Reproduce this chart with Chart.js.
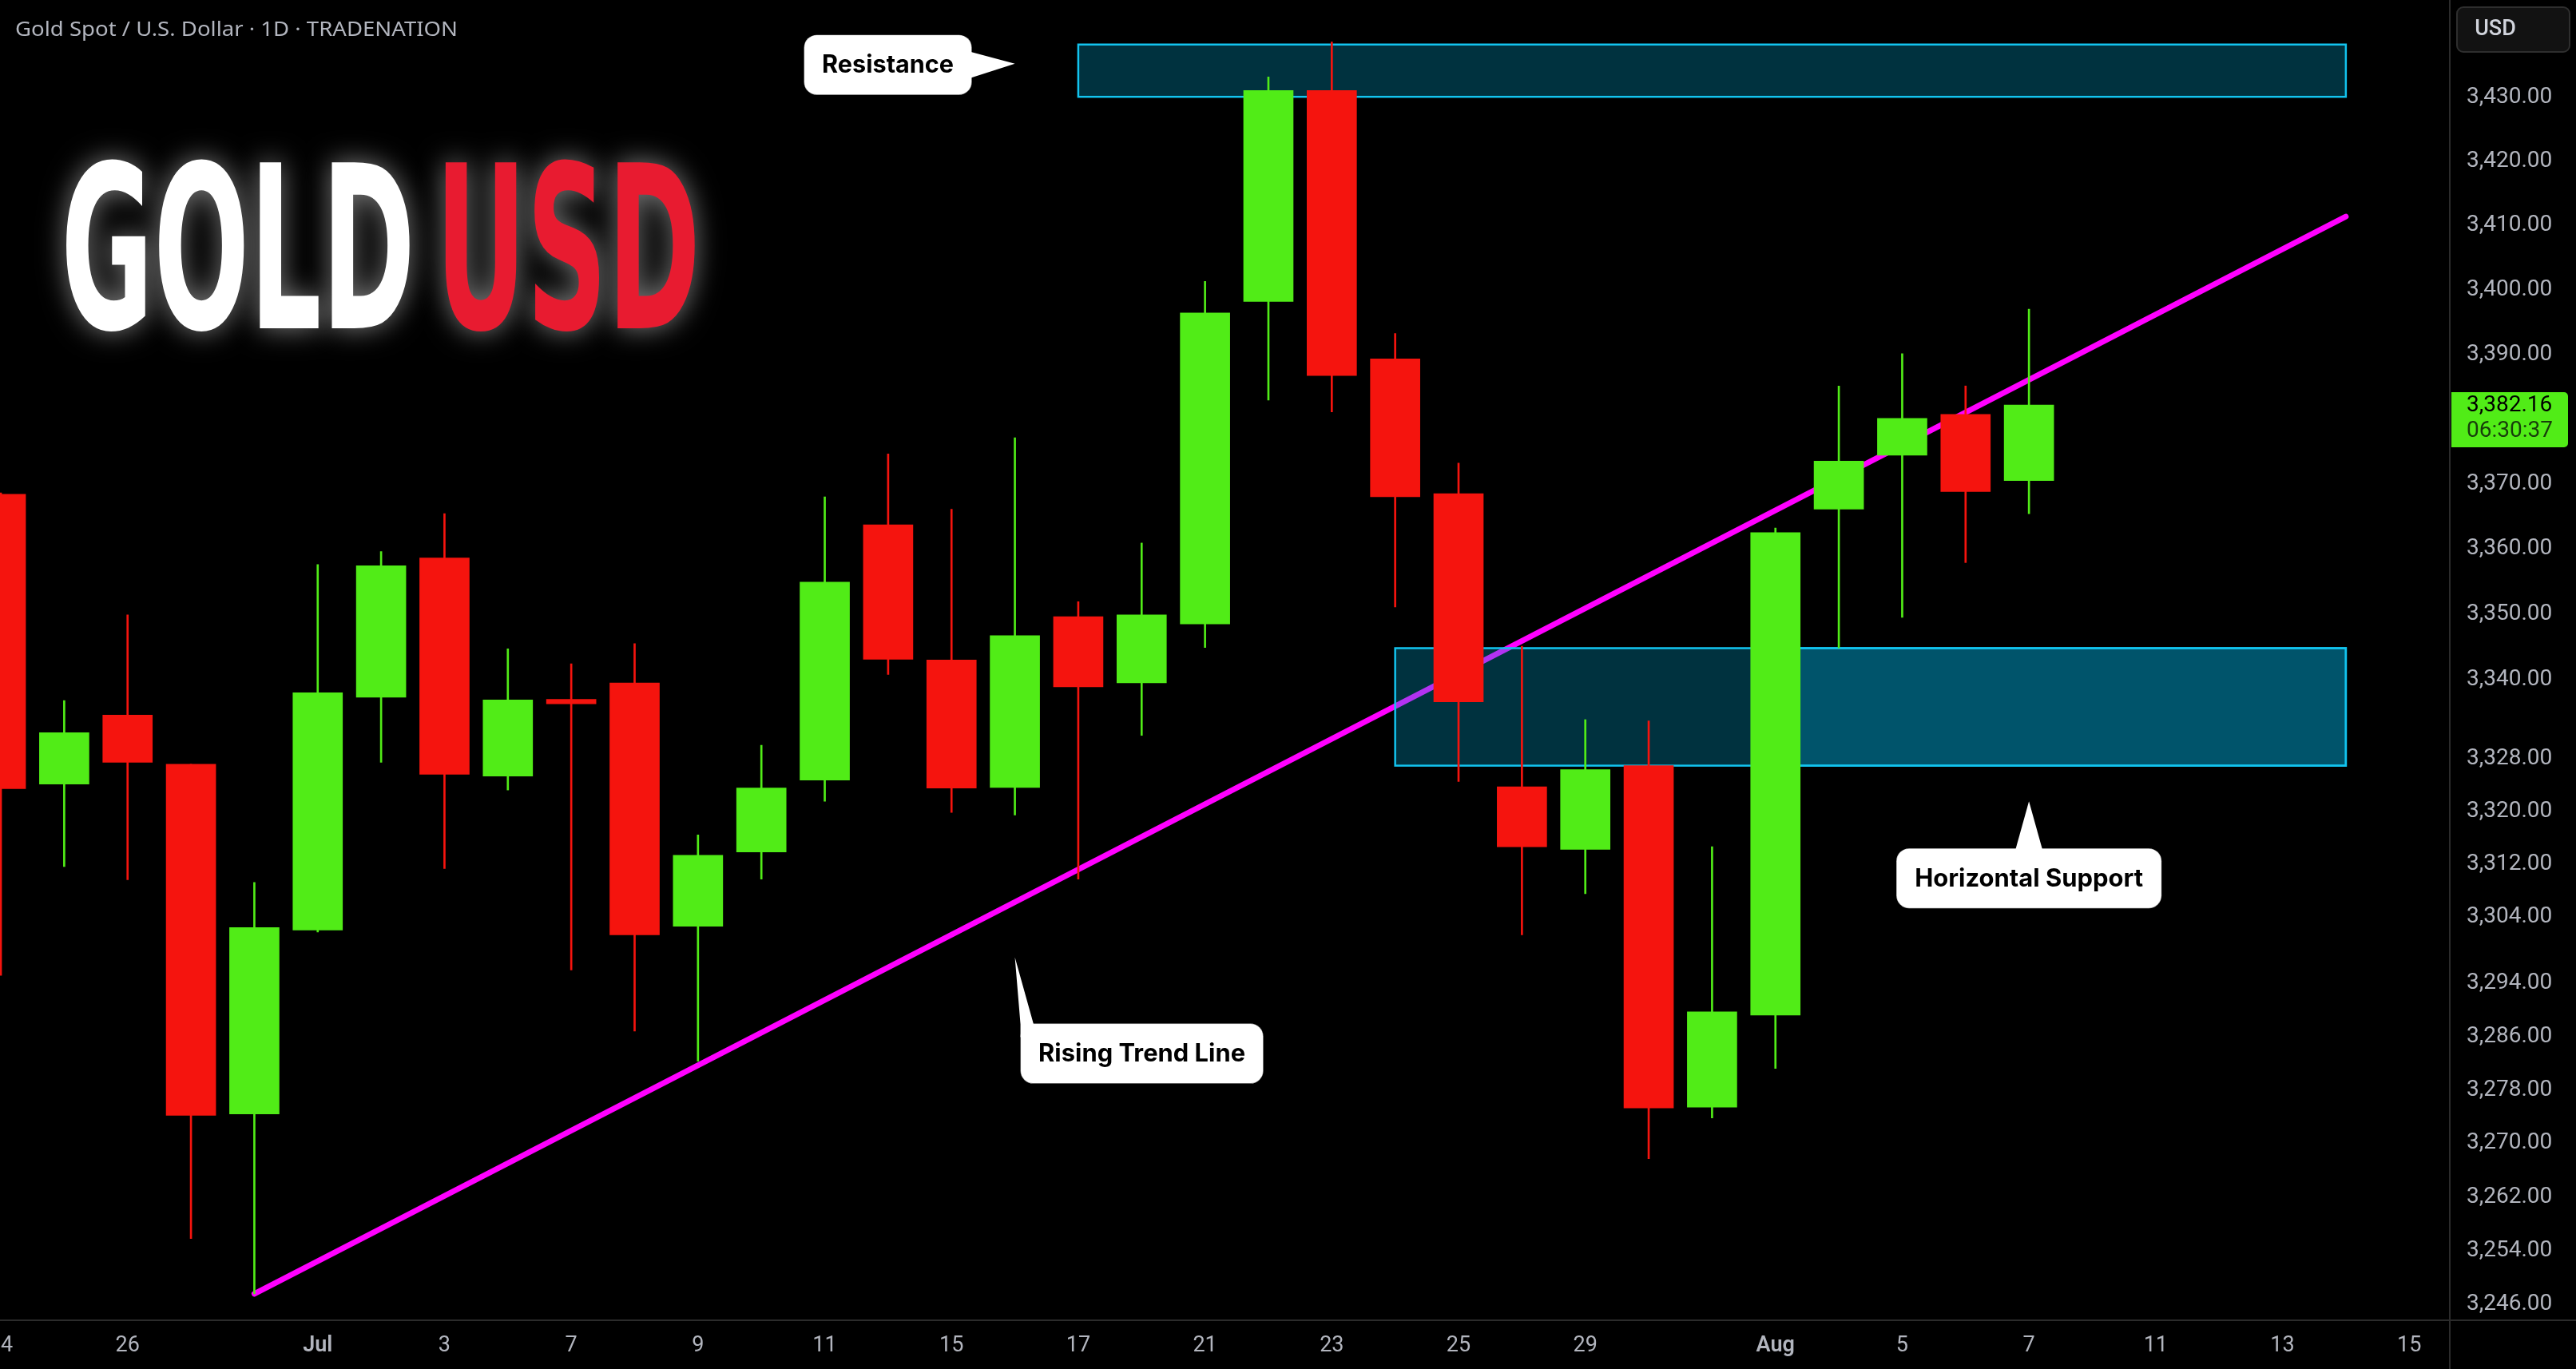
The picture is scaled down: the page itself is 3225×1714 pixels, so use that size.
<!DOCTYPE html>
<html>
<head>
<meta charset="utf-8">
<script src="https://cdn.jsdelivr.net/npm/chart.js@4.4.1/dist/chart.umd.min.js"></script>
<style>
  html, body { margin: 0; padding: 0; background: #000; }
  #wrap { width: 3225px; height: 1714px; }
</style>
</head>
<body>
<div id="wrap"><canvas id="goldChart" width="3225" height="1714"></canvas></div>
<script>
// daily candles, Gold Spot / USD
const days = ["Jun 24", "Jun 25", "Jun 26", "Jun 27", "Jun 30", "Jul 1", "Jul 2", "Jul 3", "Jul 4",
    "Jul 7", "Jul 8", "Jul 9", "Jul 10", "Jul 11", "Jul 14", "Jul 15", "Jul 16", "Jul 17", "Jul 18",
    "Jul 21", "Jul 22", "Jul 23", "Jul 24", "Jul 25", "Jul 28", "Jul 29", "Jul 30", "Jul 31", "Aug 1",
    "Aug 4", "Aug 5", "Aug 6", "Aug 7"];
const openP = [3368.4, 3324.1, 3334.6, 3327.1, 3274.4, 3302.0, 3337.3, 3358.6, 3325.3,
    3337.0, 3339.5, 3302.6, 3313.8, 3324.7, 3363.7, 3343.0, 3323.6, 3349.6, 3339.5,
    3348.5, 3398.2, 3431.1, 3389.3, 3368.5, 3323.7, 3314.2, 3326.9, 3275.4, 3289.2,
    3366.1, 3374.4, 3380.7, 3370.5];
const highP = [3368.6, 3336.8, 3349.9, 3327.1, 3309.2, 3357.6, 3359.6, 3365.4, 3344.7,
    3342.4, 3345.5, 3316.4, 3330.0, 3368.0, 3374.6, 3366.1, 3377.1, 3351.9, 3360.9,
    3401.3, 3433.2, 3438.7, 3393.2, 3373.2, 3345.1, 3333.9, 3333.7, 3314.6, 3363.2,
    3385.1, 3390.1, 3385.1, 3397.0];
const lowP = [3295.2, 3311.6, 3309.6, 3255.8, 3247.6, 3301.7, 3327.4, 3311.3, 3323.2,
    3296.0, 3286.8, 3282.3, 3309.7, 3321.5, 3340.8, 3319.8, 3319.4, 3309.7, 3331.5,
    3344.9, 3382.9, 3381.1, 3351.1, 3324.5, 3301.3, 3307.5, 3267.7, 3273.8, 3281.2,
    3344.8, 3349.5, 3357.9, 3365.4];
const closeP = [3323.4, 3331.9, 3327.4, 3274.2, 3302.4, 3338.0, 3357.4, 3325.6, 3336.9,
    3336.3, 3301.3, 3313.3, 3323.5, 3354.9, 3343.1, 3323.5, 3346.7, 3338.9, 3349.9,
    3396.4, 3431.1, 3386.7, 3368.0, 3336.6, 3314.6, 3326.3, 3275.3, 3289.7, 3362.5,
    3373.5, 3380.1, 3368.8, 3382.16];

// x axis: trading day index -> label
const xTickIdx = [0, 2, 5, 7, 9, 11, 13, 15, 17, 19, 21, 23, 25, 28, 30, 32, 34, 36, 38];
const xTickText = ["24", "26", "Jul", "3", "7", "9", "11", "15", "17", "21", "23", "25", "29",
    "Aug", "5", "7", "11", "13", "15"];
const yTicks = [3430, 3420, 3410, 3400, 3390, 3370, 3360, 3350, 3340, 3328, 3320, 3312,
    3304, 3294, 3286, 3278, 3270, 3262, 3254, 3246];

// rising trend line (index, price)
const trendX = [4, 37];
const trendY = [3247.6, 3411.4];

// zones: resistance, support, support (second drawing overlapping)
const zoneFrom = [17, 22, 28];
const zoneTo = [37, 37, 37];
const zoneLow = [3430.1, 3326.9, 3326.9];
const zoneHigh = [3438.3, 3344.8, 3344.8];

const GREEN = "#51ec17";
const RED = "#f5140e";
const candleColors = openP.map((o, i) => (closeP[i] >= o ? GREEN : RED));
const lastClose = closeP[closeP.length - 1];

function fitText(ctx, text, x, y, width, align) {
    const s = width / ctx.measureText(text).width;
    ctx.save();
    ctx.translate(x, y);
    ctx.scale(s, 1);
    ctx.textAlign = align || "left";
    ctx.fillText(text, 0, 0);
    ctx.restore();
}

// boxes go under the candles but over the trend line
const zonesPlugin = {
    id: "zones",
    beforeDatasetDraw(chart, args) {
        if (args.index !== 1) return;
        const { ctx, chartArea, scales } = chart;
        ctx.save();
        ctx.beginPath();
        ctx.rect(chartArea.left, chartArea.top, chartArea.width, chartArea.height);
        ctx.clip();
        for (let i = 0; i < zoneFrom.length; i++) {
            const x0 = scales.x.getPixelForValue(zoneFrom[i]);
            const x1 = scales.x.getPixelForValue(zoneTo[i]);
            const y0 = scales.y.getPixelForValue(zoneHigh[i]);
            const y1 = scales.y.getPixelForValue(zoneLow[i]);
            ctx.fillStyle = "rgba(0, 167, 210, 0.3)";
            ctx.fillRect(x0, y0, x1 - x0, y1 - y0);
            ctx.strokeStyle = "#12c4ef";
            ctx.lineWidth = 2.5;
            ctx.strokeRect(x0, y0, x1 - x0, y1 - y0);
        }
        ctx.restore();
    },
};

function callout(ctx, box, arrow, text, textWidth) {
    ctx.save();
    ctx.fillStyle = "#ffffff";
    ctx.strokeStyle = "rgba(0,0,0,0.25)";
    ctx.lineWidth = 1;
    ctx.beginPath();
    ctx.roundRect(box.x, box.y, box.w, box.h, 16);
    ctx.fill();
    ctx.stroke();
    ctx.beginPath();
    ctx.moveTo(arrow[0][0], arrow[0][1]);
    for (let i = 1; i < arrow.length; i++) ctx.lineTo(arrow[i][0], arrow[i][1]);
    ctx.closePath();
    ctx.fill();
    ctx.fillStyle = "#000000";
    ctx.font = 'bold 31px Inter, "Noto Sans", sans-serif';
    ctx.textBaseline = "middle";
    fitText(ctx, text, box.x + box.w / 2, box.y + box.h / 2 + 1, textWidth, "center");
    ctx.restore();
}

const overlayPlugin = {
    id: "overlay",
    afterDraw(chart) {
        const { ctx, chartArea, scales } = chart;
        const W = chart.width, H = chart.height;
        ctx.save();

        // pane separators
        ctx.strokeStyle = "#2b2b2b";
        ctx.lineWidth = 2;
        ctx.beginPath();
        ctx.moveTo(chartArea.right, 0);
        ctx.lineTo(chartArea.right, H);
        ctx.moveTo(0, chartArea.bottom + 1);
        ctx.lineTo(W, chartArea.bottom + 1);
        ctx.stroke();

        // header
        ctx.fillStyle = "#b2b5be";
        ctx.font = '25px "Noto Sans", sans-serif';
        ctx.textBaseline = "alphabetic";
        fitText(ctx, "Gold Spot / U.S. Dollar \u00b7 1D \u00b7 TRADENATION", 19, 45, 554);

        // big title with soft glow
        ctx.font = 'bold 285px "Liberation Sans Narrow", "DejaVu Sans Condensed", "Liberation Sans", sans-serif';
        ctx.shadowColor = "rgba(255, 255, 255, 0.5)";
        ctx.shadowBlur = 34;
        ctx.fillStyle = "#ffffff";
        fitText(ctx, "GOLD", 76, 411, 444);
        ctx.fillStyle = "#e81b30";
        fitText(ctx, "USD", 545, 411, 332);
        ctx.shadowBlur = 0;
        ctx.shadowColor = "transparent";

        // currency button
        ctx.fillStyle = "#121212";
        ctx.strokeStyle = "#2e2e2e";
        ctx.lineWidth = 2;
        ctx.beginPath();
        ctx.roundRect(3076, 9, 141, 56, 8);
        ctx.fill();
        ctx.stroke();
        ctx.fillStyle = "#d1d4dc";
        ctx.font = "500 27px Roboto, sans-serif";
        ctx.textBaseline = "middle";
        ctx.textAlign = "center";
        ctx.fillText("USD", 3124, 37);

        // last price tag
        const py = scales.y.getPixelForValue(lastClose);
        ctx.fillStyle = GREEN;
        ctx.beginPath();
        ctx.roundRect(chartArea.right + 2, py - 16, 146, 69, [0, 5, 5, 0]);
        ctx.fill();
        ctx.textAlign = "left";
        ctx.font = "28px Roboto, sans-serif";
        ctx.fillStyle = "#000000";
        ctx.fillText(lastClose.toLocaleString("en-US", { minimumFractionDigits: 2 }), 3088, py + 1);
        ctx.fillStyle = "#173d0b";
        ctx.fillText("06:30:37", 3088, py + 33);

        // callouts anchored on the price scale
        const r = { x: scales.x.getPixelForValue(16), y: scales.y.getPixelForValue(3435.3) };
        callout(ctx, { x: r.x - 264, y: r.y - 36, w: 210, h: 75 },
            [[r.x, r.y], [r.x - 56, r.y - 15], [r.x - 56, r.y + 18]], "Resistance", 165);

        const t = { x: scales.x.getPixelForValue(16), y: scales.y.getPixelForValue(3297.9) };
        callout(ctx, { x: t.x + 7, y: t.y + 83, w: 304, h: 75 },
            [[t.x, t.y], [t.x + 24, t.y + 86], [t.x + 24, t.y + 100], [t.x + 7, t.y + 100], [t.x + 7, t.y + 84]],
            "Rising Trend Line", 259);

        const s = { x: scales.x.getPixelForValue(32), y: scales.y.getPixelForValue(3321.5) };
        callout(ctx, { x: s.x - 166, y: s.y + 59, w: 332, h: 75 },
            [[s.x, s.y], [s.x + 17, s.y + 61], [s.x - 17, s.y + 61]], "Horizontal Support", 286);

        ctx.restore();
    },
};

const bgPlugin = {
    id: "bg",
    beforeDraw(chart) {
        const c = chart.ctx;
        c.save();
        c.fillStyle = "#000000";
        c.fillRect(0, 0, chart.width, chart.height);
        c.restore();
    },
};

const goldCtx = document.getElementById("goldChart").getContext("2d");

const goldChart = new Chart(goldCtx, {
    type: "bar",
    data: {
        datasets: [
            {
                // trend line, drawn first
                type: "line",
                data: trendX.map((x, i) => ({ x: x, y: trendY[i] })),
                borderColor: "#ff00ff",
                borderWidth: 7,
                borderCapStyle: "round",
                pointRadius: 0,
                tension: 0,
                order: 3,
            },
            {
                // wicks
                data: days.map((d, i) => ({ x: i, y: [lowP[i], highP[i]] })),
                backgroundColor: candleColors,
                borderWidth: 0,
                grouped: false,
                barPercentage: 1,
                categoryPercentage: 1,
                maxBarThickness: 2,
                order: 2,
            },
            {
                // bodies
                data: days.map((d, i) => ({ x: i, y: [openP[i], closeP[i]] })),
                backgroundColor: candleColors,
                borderWidth: 0,
                grouped: false,
                barPercentage: 1,
                categoryPercentage: 1,
                maxBarThickness: 62,
                order: 1,
            },
        ],
    },
    options: {
        responsive: false,
        devicePixelRatio: 1,
        animation: false,
        layout: { padding: 0 },
        plugins: {
            legend: { display: false },
            tooltip: { enabled: false },
        },
        scales: {
            x: {
                type: "linear",
                min: -0.013,
                max: 38.64,
                bounds: "data",
                offset: false,
                grid: { display: false, drawTicks: false },
                border: { display: false },
                afterBuildTicks: (s) => {
                    s.ticks = xTickIdx.map((v) => ({ value: v }));
                },
                afterFit: (s) => {
                    s.height = 62;
                    s.paddingLeft = 0;
                    s.paddingRight = 0;
                },
                ticks: {
                    autoSkip: false,
                    maxRotation: 0,
                    minRotation: 0,
                    padding: 17,
                    color: "#b2b5be",
                    font: (c) => ({
                        family: "Roboto",
                        size: 27,
                        weight: /[A-Za-z]/.test(xTickText[c.index] || "") ? "600" : "400",
                    }),
                    callback: (v, i) => xTickText[i],
                },
            },
            y: {
                type: "logarithmic",
                position: "right",
                min: 3243.8,
                max: 3445.3,
                bounds: "data",
                grid: { display: false, drawTicks: false },
                border: { display: false },
                afterBuildTicks: (s) => {
                    s.ticks = yTicks.map((v) => ({ value: v }));
                },
                afterFit: (s) => {
                    s.width = 158;
                    s.paddingTop = 0;
                    s.paddingBottom = 0;
                },
                ticks: {
                    autoSkip: false,
                    padding: 21,
                    color: "#b2b5be",
                    font: { family: "Roboto", size: 28 },
                    callback: (v) =>
                        Number(v).toLocaleString("en-US", {
                            minimumFractionDigits: 2,
                            maximumFractionDigits: 2,
                        }),
                },
            },
        },
    },
    plugins: [bgPlugin, zonesPlugin, overlayPlugin],
});
</script>
</body>
</html>
